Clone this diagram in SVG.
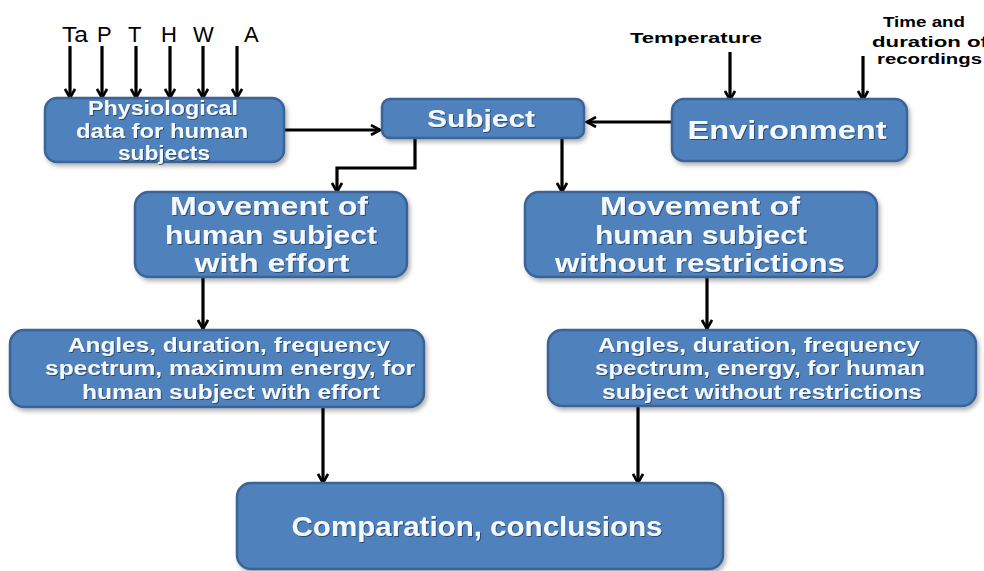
<svg xmlns="http://www.w3.org/2000/svg" width="984" height="571" viewBox="0 0 984 571">
  <defs>
    <marker id="arrow" viewBox="0 0 12 12" refX="10" refY="6" markerWidth="12" markerHeight="12" markerUnits="userSpaceOnUse" orient="auto">
      <path d="M1,1 L10,6 L1,11" fill="none" stroke="#000" stroke-width="2.6"/>
    </marker>
    <filter id="shadow" x="-10%" y="-10%" width="125%" height="130%">
      <feDropShadow dx="2" dy="3" stdDeviation="2" flood-color="#000" flood-opacity="0.3"/>
    </filter>
    <filter id="textShadow" x="-5%" y="-20%" width="110%" height="150%">
      <feDropShadow dx="1" dy="1" stdDeviation="0.6" flood-color="#1f3550" flood-opacity="0.7"/>
    </filter>
  </defs>
  <style>
    .box { fill: #4f81bd; stroke: #3a6496; stroke-width: 2.5; filter: url(#shadow); }
    .lbl { fill: #f4f8ff; font-family: "Liberation Sans", Arial, sans-serif; font-weight: bold; text-anchor: middle; filter: url(#textShadow); }
    .in { fill: #000; font-family: "Liberation Sans", Arial, sans-serif; font-size: 22px; }
    .in-b { fill: #000; font-family: "Liberation Sans", Arial, sans-serif; font-weight: bold; font-size: 15px; }
    .wire { fill: none; stroke: #000; stroke-width: 3.2; marker-end: url(#arrow); }
  </style>

  <rect width="984" height="571" fill="#ffffff"/>

  <!-- input labels -->
  <g id="inputs">
    <text class="in" x="62" y="42" textLength="26" lengthAdjust="spacingAndGlyphs">Ta</text>
    <text class="in" x="97" y="42">P</text>
    <text class="in" x="128" y="42">T</text>
    <text class="in" x="161" y="42">H</text>
    <text class="in" x="193" y="42">W</text>
    <text class="in" x="244" y="42">A</text>
    <text class="in-b" x="630" y="43" textLength="132" lengthAdjust="spacingAndGlyphs">Temperature</text>
    <text class="in-b" x="883" y="27" textLength="82" lengthAdjust="spacingAndGlyphs">Time and</text>
    <text class="in-b" x="872" y="47" textLength="116" lengthAdjust="spacingAndGlyphs">duration of</text>
    <text class="in-b" x="877" y="64" textLength="105" lengthAdjust="spacingAndGlyphs">recordings</text>
  </g>

  <!-- connectors -->
  <g id="connectors">
    <line class="wire" x1="70" y1="46" x2="70" y2="98"/>
    <line class="wire" x1="102" y1="46" x2="102" y2="98"/>
    <line class="wire" x1="136" y1="46" x2="136" y2="98"/>
    <line class="wire" x1="170" y1="46" x2="170" y2="98"/>
    <line class="wire" x1="203" y1="46" x2="203" y2="98"/>
    <line class="wire" x1="237" y1="46" x2="237" y2="98"/>
    <line class="wire" x1="730" y1="52" x2="730" y2="100"/>
    <line class="wire" x1="863" y1="56" x2="863" y2="100"/>
    <line class="wire" x1="284" y1="130" x2="380" y2="130"/>
    <line class="wire" x1="672" y1="122" x2="587" y2="122"/>
    <polyline class="wire" points="415,139 415,168 337,168 337,192"/>
    <line class="wire" x1="562" y1="139" x2="562" y2="192"/>
    <line class="wire" x1="203" y1="277" x2="203" y2="329"/>
    <line class="wire" x1="707" y1="277" x2="707" y2="329"/>
    <line class="wire" x1="323" y1="407" x2="323" y2="483"/>
    <line class="wire" x1="638" y1="407" x2="638" y2="483"/>
  </g>

  <!-- nodes -->
  <g id="physiological">
    <rect class="box" x="45" y="98" width="239" height="64" rx="12"/>
    <text class="lbl" font-size="20" x="163" y="115" textLength="150" lengthAdjust="spacingAndGlyphs">Physiological</text>
    <text class="lbl" font-size="20" x="162" y="138" textLength="172" lengthAdjust="spacingAndGlyphs">data for human</text>
    <text class="lbl" font-size="20" x="164" y="160" textLength="92" lengthAdjust="spacingAndGlyphs">subjects</text>
  </g>

  <g id="subject">
    <rect class="box" x="382" y="99" width="202" height="39" rx="8"/>
    <text class="lbl" font-size="24" x="481" y="127" textLength="108" lengthAdjust="spacingAndGlyphs">Subject</text>
  </g>

  <g id="environment">
    <rect class="box" x="672" y="99" width="235" height="62" rx="12"/>
    <text class="lbl" font-size="25" x="787" y="139" textLength="199" lengthAdjust="spacingAndGlyphs">Environment</text>
  </g>

  <g id="movement-effort">
    <rect class="box" x="135" y="192" width="272" height="85" rx="14"/>
    <text class="lbl" font-size="25" x="269" y="215" textLength="198" lengthAdjust="spacingAndGlyphs">Movement of</text>
    <text class="lbl" font-size="25" x="271" y="244" textLength="212" lengthAdjust="spacingAndGlyphs">human subject</text>
    <text class="lbl" font-size="25" x="272" y="272" textLength="155" lengthAdjust="spacingAndGlyphs">with effort</text>
  </g>

  <g id="movement-free">
    <rect class="box" x="525" y="192" width="352" height="85" rx="14"/>
    <text class="lbl" font-size="25" x="700" y="215" textLength="200" lengthAdjust="spacingAndGlyphs">Movement of</text>
    <text class="lbl" font-size="25" x="701" y="244" textLength="212" lengthAdjust="spacingAndGlyphs">human subject</text>
    <text class="lbl" font-size="25" x="700" y="272" textLength="290" lengthAdjust="spacingAndGlyphs">without restrictions</text>
  </g>

  <g id="analysis-effort">
    <rect class="box" x="10" y="330" width="414" height="77" rx="14"/>
    <text class="lbl" font-size="20" x="229" y="352" textLength="322" lengthAdjust="spacingAndGlyphs">Angles, duration, frequency</text>
    <text class="lbl" font-size="20" x="230" y="375" textLength="370" lengthAdjust="spacingAndGlyphs">spectrum, maximum energy, for</text>
    <text class="lbl" font-size="20" x="231" y="399" textLength="298" lengthAdjust="spacingAndGlyphs">human subject with effort</text>
  </g>

  <g id="analysis-free">
    <rect class="box" x="548" y="330" width="428" height="76" rx="14"/>
    <text class="lbl" font-size="20" x="759" y="352" textLength="322" lengthAdjust="spacingAndGlyphs">Angles, duration, frequency</text>
    <text class="lbl" font-size="20" x="760" y="375" textLength="330" lengthAdjust="spacingAndGlyphs">spectrum, energy, for human</text>
    <text class="lbl" font-size="20" x="762" y="399" textLength="320" lengthAdjust="spacingAndGlyphs">subject without restrictions</text>
  </g>

  <g id="conclusions">
    <rect class="box" x="237" y="483" width="486" height="86" rx="14"/>
    <text class="lbl" font-size="28" x="477" y="536" textLength="371" lengthAdjust="spacingAndGlyphs">Comparation, conclusions</text>
  </g>
</svg>
